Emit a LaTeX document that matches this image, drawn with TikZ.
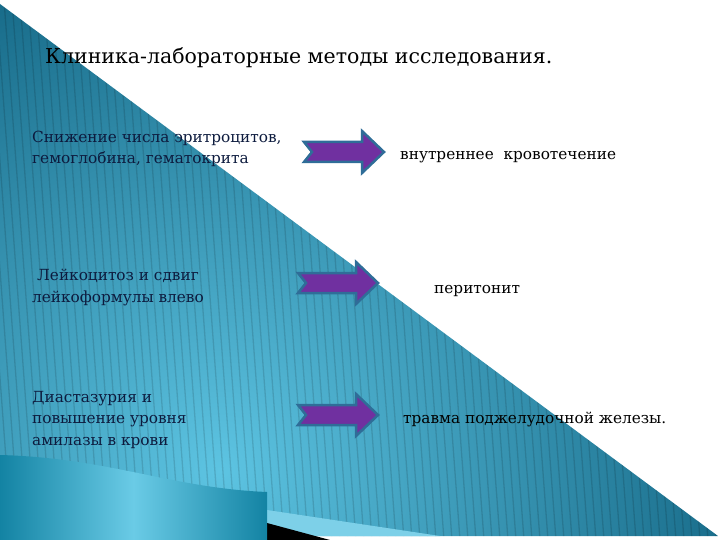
\documentclass[tikz,border=0pt]{standalone}
\usepackage{fontspec}
\setmainfont{DejaVu Serif}
\usetikzlibrary{positioning}
\definecolor{tealdark}{HTML}{0A5A78}
\definecolor{teallight}{HTML}{5DC4E2}
\definecolor{panelmid}{HTML}{6ACBE6}
\definecolor{panelside}{HTML}{1383A3}
\definecolor{arrowfill}{HTML}{7030A0}
\definecolor{arrowline}{HTML}{2F6D98}
\definecolor{inknavy}{HTML}{0D1B3E}
\tikzset{
	heading/.style={anchor=base west, inner sep=0pt, font=\fontsize{20.5}{24}\selectfont},
	cause/.style={anchor=base west, inner sep=0pt, align=left, text=inknavy, font=\fontsize{15.3}{21.5}\selectfont},
	effect/.style={anchor=base west, inner sep=0pt, font=\fontsize{15.3}{21}\selectfont},
	blockarrow/.pic={
		\filldraw[fill=arrowfill, draw=arrowline, line width=2.5pt, line join=miter]
		(0,-10) -- (58,-10) -- (58,-21) -- (80,0) -- (58,21) -- (58,10) -- (0,10) -- (8,0) -- cycle;
	}
}
\begin{document}
\begin{tikzpicture}[x=1pt,y=-1pt]
	\useasboundingbox (0,0) rectangle (720,540);
	% blue wedge with stripes
	\begin{scope}
		\clip (0,4) -- (718,536) -- (0,536) -- cycle;
		\shade[inner color=teallight, outer color=tealdark] (220,470) circle (620);
		\foreach \x in {-60,-52,...,720}
			\draw[black, opacity=.13, line width=1.3pt] (\x,0) -- ++(40,540);
	\end{scope}
	% bottom corner pieces
	\fill[teallight!80!white] (267,510) -- (440,536) -- (267,536) -- cycle;
	\fill[black] (267,523) -- (330,540) -- (267,540) -- cycle;
	\shade[left color=panelside, right color=panelside, middle color=panelmid]
	(0,455) .. controls (110,458) and (170,488) .. (267,492) -- (267,540) -- (0,540) -- cycle;
	
	\node[heading] (title) at (45,64) {Клиника-лабораторные методы исследования.};
	
	\node[cause] (cause1) at (32,164) {Снижение числа эритроцитов,\\гемоглобина, гематокрита};
	\node[cause] (cause2) at (32,302) {\hspace{5pt}Лейкоцитоз и сдвиг\\лейкоформулы влево};
	\node[cause] (cause3) at (32,445) {Диастазурия и\\повышение уровня\\амилазы в крови};
	
	\node[effect] (effect1) at (400,160) {внутреннее\ \ кровотечение};
	\node[effect] (effect2) at (434,293) {перитонит};
	\node[effect] (effect3) at (403,423) {травма поджелудочной железы.};
	
	\path (304,152) coordinate (a1)
	(298,283) coordinate (a2)
	(298,415) coordinate (a3);
	\pic at (a1) {blockarrow};
	\pic at (a2) {blockarrow};
	\pic at (a3) {blockarrow};
\end{tikzpicture}
\end{document}
